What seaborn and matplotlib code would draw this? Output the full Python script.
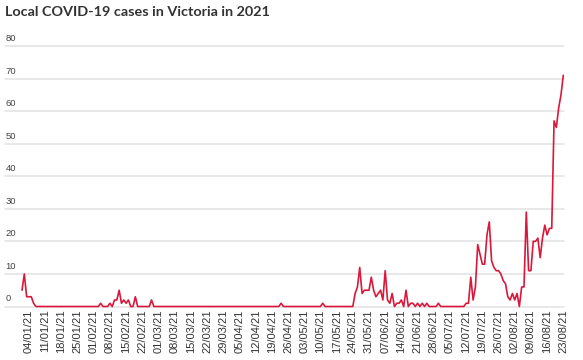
import seaborn as sns
import matplotlib.pyplot as plt
import pandas as pd

# Daily local cases (1 Jan - 23 Aug 2021)
jan = [5, 10, 3, 3, 3, 1, 0, 0, 0, 0, 0, 0, 0, 0, 0, 0, 0, 0, 0, 0, 0, 0, 0, 0, 0, 0, 0, 0, 0, 0, 0]
feb = [0, 0, 0, 1, 0, 0, 0, 1, 0, 2, 2, 5, 1, 2, 1, 2, 0, 0, 3, 0, 0, 0, 0, 0, 0, 2, 0, 0]
mar = [0] * 31
apr = [0, 0, 0, 0, 0, 0, 0, 0, 0, 0, 0, 0, 0, 0, 0, 0, 0, 0, 0, 0, 0, 0, 1, 0, 0, 0, 0, 0, 0, 0]
may = [0, 0, 0, 0, 0, 0, 0, 0, 0, 0, 1, 0, 0, 0, 0, 0, 0, 0, 0, 0, 0, 0, 0, 0, 4, 6, 12, 4, 5, 5, 5]
jun = [9, 5, 3, 4, 5, 2, 11, 2, 1, 4, 0, 1, 1, 2, 0, 5, 0, 1, 1, 0, 1, 0, 1, 0, 1, 0, 0, 0, 0, 1]
jul = [0, 0, 0, 0, 0, 0, 0, 0, 0, 0, 0, 1, 1, 9, 2, 6, 19, 16, 13, 13, 22, 26, 14, 12, 11, 11, 10, 8, 7, 3, 2]
aug = [4, 2, 4, 0, 6, 6, 29, 11, 11, 20, 20, 21, 15, 21, 25, 22, 24, 24, 57, 55, 61, 65, 71]

y_ticks = [0, 10, 20, 30, 40, 50, 60, 70, 80]
tick_dates = pd.date_range("2021-01-04", "2021-08-23", freq="7D")

cases = jan + feb + mar + apr + may + jun + jul + aug
df = pd.DataFrame({
    "date": pd.date_range("2021-01-01", periods=len(cases), freq="D"),
    "cases": cases,
})

sns.set_style("white")
plt.rcParams["font.family"] = ["Liberation Sans", "DejaVu Sans"]

fig = plt.figure(figsize=(5.83, 3.60), dpi=100)
ax = fig.add_axes([5 / 583, 53.5 / 360, 559 / 583, 260.5 / 360])

sns.lineplot(data=df, x="date", y="cases", ax=ax, color="#d9183b",
             linewidth=1.2, clip_on=False, zorder=3)

ax.set_ylim(0, 80)
ax.set_xlim(df["date"].iloc[0] - pd.Timedelta(days=7.35),
            df["date"].iloc[-1] + pd.Timedelta(days=0.3))

# horizontal gridlines with labels sitting on top, left aligned
ax.set_yticks(y_ticks)
ax.set_yticklabels([])
ax.tick_params(axis="y", length=0)
for v in y_ticks:
    ax.axhline(v, color="#e2e2e2", linewidth=1.1, zorder=1, clip_on=False)
    ax.annotate(str(v), xy=(0, v), xycoords=("axes fraction", "data"),
                xytext=(0.5, 2.2), textcoords="offset points",
                ha="left", va="bottom", fontsize=6.8, color="#444444")

ax.set_xticks(tick_dates)
ax.set_xticklabels([d.strftime("%d/%m/%y") for d in tick_dates],
                   rotation=90, fontsize=8, color="#333333")
ax.tick_params(axis="x", length=0, pad=2)

ax.set_xlabel("")
ax.set_ylabel("")
sns.despine(ax=ax, left=True, bottom=True)

fig.text(5 / 583, 1 - 12 / 360, "Local COVID-19 cases in Victoria in 2021",
         ha="left", va="center", fontsize=10.4, fontweight="bold",
         color="#333333", family=["Lato", "DejaVu Sans"])

fig.savefig("out.png", dpi=100)
